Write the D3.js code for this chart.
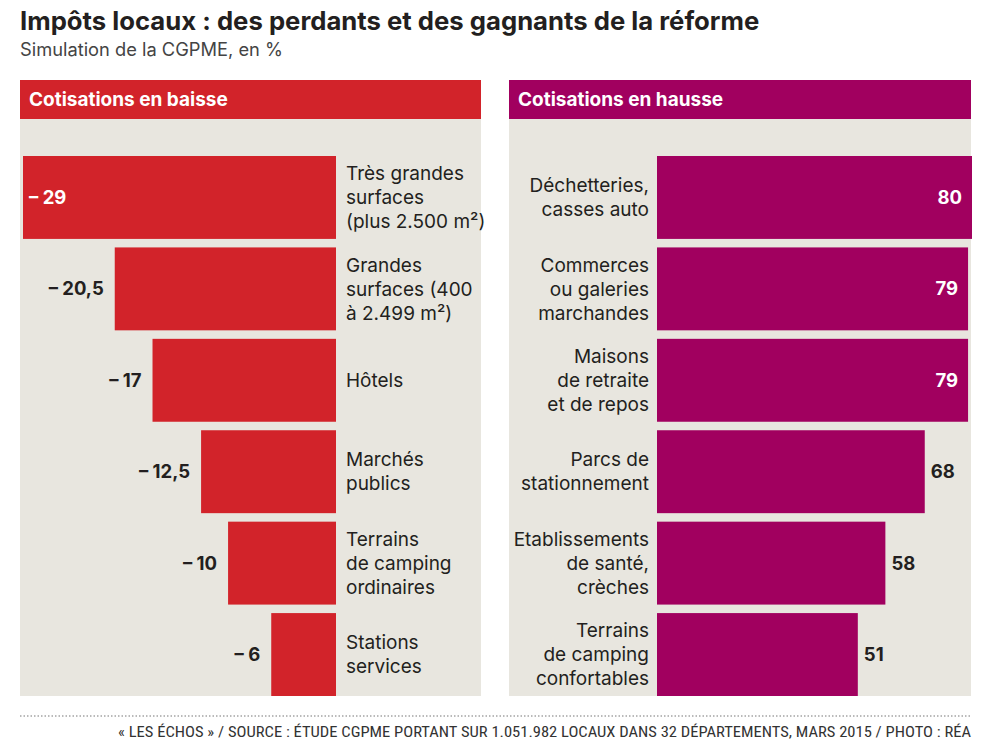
<!DOCTYPE html>
<html>
<head>
<meta charset="utf-8">
<script src="https://cdn.jsdelivr.net/npm/d3@7"></script>
<style>
  html, body { margin: 0; padding: 0; background: #ffffff; }
  svg { display: block; }
</style>
</head>
<body>
<svg id="chart" width="991" height="745"></svg>
<script>
// ---- Data ----
const title = "Impôts locaux : des perdants et des gagnants de la réforme";
const subtitle = "Simulation de la CGPME, en %";
const footer = "« LES ÉCHOS » / SOURCE : ÉTUDE CGPME PORTANT SUR 1.051.982 LOCAUX DANS 32 DÉPARTEMENTS, MARS 2015 / PHOTO : RÉA";

const baisseTitle = "Cotisations en baisse";
const baisseCategories = [
  ["Très grandes", "surfaces", "(plus 2.500 m²)"],
  ["Grandes", "surfaces (400", "à 2.499 m²)"],
  ["Hôtels"],
  ["Marchés", "publics"],
  ["Terrains", "de camping", "ordinaires"],
  ["Stations", "services"]
];
const baisseValues = [-29, -20.5, -17, -12.5, -10, -6];

const hausseTitle = "Cotisations en hausse";
const hausseCategories = [
  ["Déchetteries,", "casses auto"],
  ["Commerces", "ou galeries", "marchandes"],
  ["Maisons", "de retraite", "et de repos"],
  ["Parcs de", "stationnement"],
  ["Etablissements", "de santé,", "crèches"],
  ["Terrains", "de camping", "confortables"]
];
const hausseValues = [80, 79, 79, 68, 58, 51];

// ---- Style ----
const RED = "#D2232A";
const PURPLE = "#A1005F";
const PANEL_BG = "#E8E6DF";
const TEXT = "#231F20";
const FONT = "Inter, Roboto, 'Noto Sans', 'Liberation Sans', sans-serif";

const svg = d3.select("#chart");

svg.append("text").attr("x", 20).attr("y", 30)
  .attr("font-family", FONT).attr("font-weight", 700).attr("font-size", 25.7)
  .attr("fill", TEXT).text(title);
svg.append("text").attr("x", 20).attr("y", 56)
  .attr("font-family", FONT).attr("font-weight", 400).attr("font-size", 18.3)
  .attr("fill", "#444").text(subtitle);

const fmt = v => {
  const s = d3.format(",")(Math.abs(v)).replace(".", ",");
  return v < 0 ? "– " + s : s;
};

const bandTop = 156, bandBottom = 696;

function panel(opts) {
  const { x0, x1, heading, color, cats, vals, side } = opts;
  const g = svg.append("g");
  g.append("rect").attr("x", x0).attr("y", 119).attr("width", x1 - x0).attr("height", 577)
    .attr("fill", PANEL_BG);
  g.append("rect").attr("x", x0).attr("y", 80).attr("width", x1 - x0).attr("height", 39)
    .attr("fill", color);
  g.append("text").attr("x", x0 + 9).attr("y", 106)
    .attr("font-family", FONT).attr("font-weight", 700).attr("font-size", 19)
    .attr("fill", "#fff").text(heading);

  const y = d3.scaleBand().domain(d3.range(cats.length)).range([bandTop, bandBottom])
    .paddingInner(0.093).paddingOuter(0);

  let xScale, baseX;
  if (side === "left") {
    baseX = 336;
    xScale = d3.scaleLinear().domain([0, -29]).range([baseX, 23]);
  } else {
    baseX = 657;
    xScale = d3.scaleLinear().domain([0, 80]).range([baseX, 972]);
  }

  const data = vals.map((v, i) => ({ v, i, cat: cats[i] }));

  g.selectAll("rect.bar").data(data).enter().append("rect")
    .attr("class", "bar")
    .attr("x", d => Math.min(xScale(0), xScale(d.v)))
    .attr("width", d => Math.abs(xScale(d.v) - xScale(0)))
    .attr("y", d => y(d.i))
    .attr("height", y.bandwidth())
    .attr("fill", color);

  const lineH = 24;
  data.forEach(d => {
    const cy = y(d.i) + y.bandwidth() / 2;
    const n = d.cat.length;
    const t = g.append("text")
      .attr("font-family", FONT).attr("font-size", 19).attr("fill", TEXT)
      .attr("text-anchor", side === "left" ? "start" : "end");
    d.cat.forEach((line, k) => {
      t.append("tspan")
        .attr("x", side === "left" ? 346 : 649)
        .attr("y", cy + (k - (n - 1) / 2) * lineH)
        .attr("dy", "0.35em")
        .text(line);
    });
  });

  data.forEach(d => {
    const cy = y(d.i) + y.bandwidth() / 2;
    const label = fmt(d.v);
    const t = g.append("text")
      .attr("font-family", FONT).attr("font-weight", 700).attr("font-size", 18.5)
      .attr("y", cy).attr("dy", "0.35em").text(label);
    const w = t.node().getComputedTextLength();
    const end = xScale(d.v);
    if (side === "left") {
      const room = end - x0;
      if (room < w + 16) {
        t.attr("x", end + 6).attr("text-anchor", "start").attr("fill", "#fff");
      } else {
        t.attr("x", end - 11).attr("text-anchor", "end").attr("fill", TEXT);
      }
    } else {
      const room = x1 - end;
      if (room < w + 12) {
        t.attr("x", end - 10).attr("text-anchor", "end").attr("fill", "#fff");
      } else {
        t.attr("x", end + 6).attr("text-anchor", "start").attr("fill", TEXT);
      }
    }
  });
}

panel({ x0: 20, x1: 481, heading: baisseTitle, color: RED, cats: baisseCategories, vals: baisseValues, side: "left" });
panel({ x0: 509, x1: 971, heading: hausseTitle, color: PURPLE, cats: hausseCategories, vals: hausseValues, side: "right" });

svg.append("line").attr("x1", 20).attr("x2", 971).attr("y1", 716).attr("y2", 716)
  .attr("stroke", "#777").attr("stroke-width", 1.2).attr("stroke-dasharray", "1.5,2");
svg.append("text").attr("x", 971).attr("y", 737).attr("text-anchor", "end")
  .attr("font-family", "'Liberation Sans Narrow', 'Roboto Condensed', 'DejaVu Sans Condensed', sans-serif")
  .attr("font-size", 14.5).attr("fill", "#333")
  .attr("textLength", 853).attr("lengthAdjust", "spacingAndGlyphs")
  .text(footer);
</script>
</body>
</html>
